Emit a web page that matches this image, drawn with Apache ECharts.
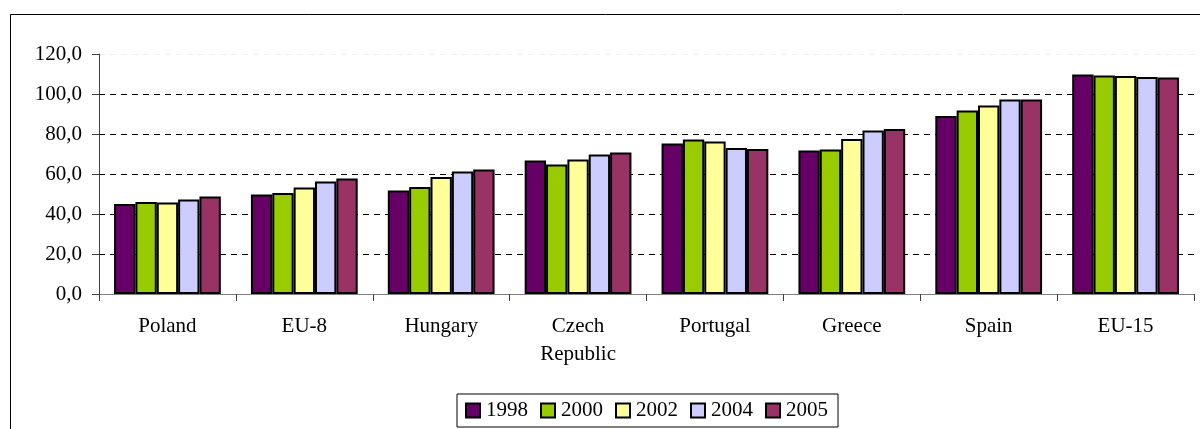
<!DOCTYPE html>
<html>
<head>
<meta charset="utf-8">
<script src="https://cdn.jsdelivr.net/npm/echarts@6/dist/echarts.min.js"></script>
<style>
  html, body { margin: 0; padding: 0; background: #fff; }
  #main { width: 1200px; height: 429px; }
</style>
</head>
<body>
<div id="main"></div>
<script>
var countries = ["Poland", "EU-8", "Hungary", "Czech\nRepublic", "Portugal", "Greece", "Spain", "EU-15"];
var years = ["1998", "2000", "2002", "2004", "2005"];
var colors = ["#660066", "#99cc00", "#ffff99", "#ccccff", "#993366"];

var v1998 = [45.0, 49.8, 51.7, 66.8, 75.2, 71.7, 89.0, 109.7];
var v2000 = [46.0, 50.5, 53.5, 64.8, 77.3, 72.3, 91.8, 109.3];
var v2002 = [45.7, 53.2, 58.5, 67.3, 76.3, 77.5, 94.2, 109.0];
var v2004 = [47.3, 56.3, 61.3, 69.7, 73.0, 81.8, 97.3, 108.5];
var v2005 = [48.7, 57.8, 62.3, 70.8, 72.5, 82.5, 97.2, 108.2];

var allValues = [v1998, v2000, v2002, v2004, v2005];

var series = [];
for (var i = 0; i < years.length; i++) {
  series.push({
    name: years[i],
    type: "bar",
    data: allValues[i],
    barGap: "0%",
    barCategoryGap: "22%",
    itemStyle: {
      color: colors[i],
      borderColor: "#000",
      borderWidth: 2
    }
  });
}

var myChart = echarts.init(document.getElementById("main"));
myChart.setOption({
  animation: false,
  color: colors,
  textStyle: { fontFamily: "Liberation Serif" },
  graphic: [
    {
      type: "rect",
      shape: { x: 10.5, y: 14.5, width: 1300, height: 500 },
      style: { fill: "none", stroke: "#000", lineWidth: 1 },
      silent: true
    }
  ],
  grid: { left: 99, right: 6, top: 54, bottom: 135 },
  legend: {
    data: years,
    left: 457,
    top: 394,
    padding: [6, 10, 6, 8],
    itemWidth: 14,
    itemHeight: 14,
    itemGap: 12,
    icon: "rect",
    borderColor: "#000",
    borderWidth: 1,
    itemStyle: { borderColor: "#000", borderWidth: 2 },
    textStyle: { fontFamily: "Liberation Serif", fontSize: 21, color: "#000", padding: [0, 0, 0, 1] }
  },
  xAxis: {
    type: "category",
    data: countries,
    axisLine: { lineStyle: { color: "#808080", width: 1 } },
    axisTick: { show: true, alignWithLabel: false, length: 7, lineStyle: { color: "#404040" } },
    axisLabel: {
      color: "#000",
      fontSize: 21,
      fontFamily: "Liberation Serif",
      margin: 18,
      lineHeight: 28
    }
  },
  yAxis: {
    type: "value",
    min: 0,
    max: 120,
    interval: 20,
    axisLine: { show: true, lineStyle: { color: "#404040", width: 1 } },
    axisTick: { show: true, length: 7, lineStyle: { color: "#404040" } },
    axisLabel: {
      color: "#000",
      fontSize: 21,
      fontFamily: "Liberation Serif",
      margin: 17,
      formatter: function (v) { return v.toFixed(1).replace(".", ","); }
    },
    splitLine: {
      show: true,
      lineStyle: {
        color: ["#000", "#000", "#000", "#000", "#000", "#000", "#f0f0f0"],
        width: 1,
        type: [6, 5]
      }
    }
  },
  series: series
});
</script>
</body>
</html>
